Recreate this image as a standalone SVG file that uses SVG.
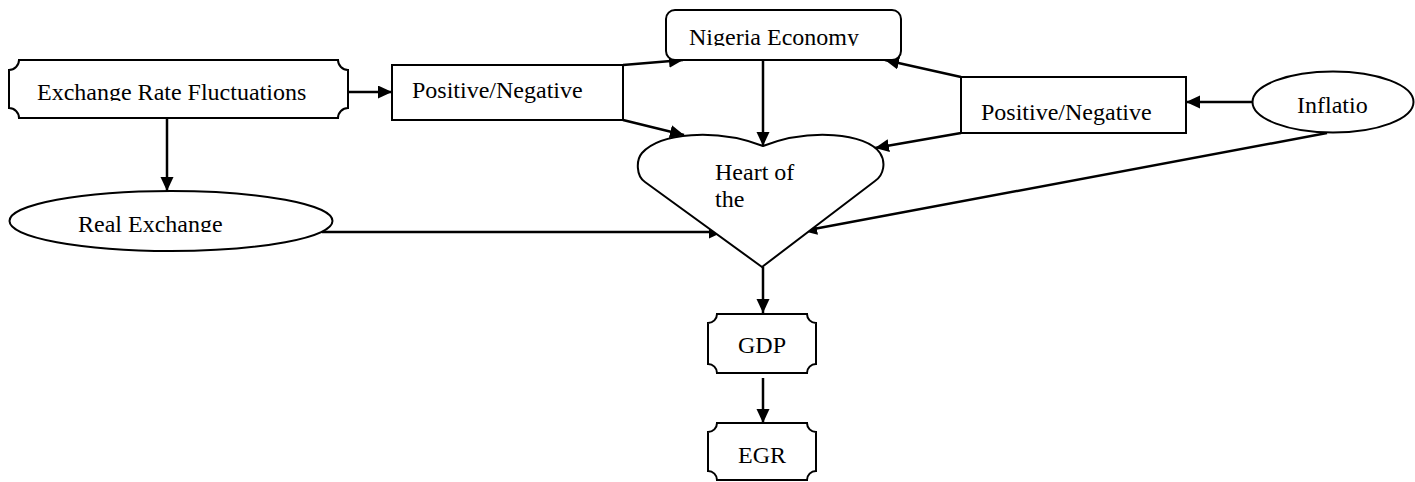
<svg xmlns="http://www.w3.org/2000/svg" width="1415" height="482" viewBox="0 0 1415 482">
<style>
.s{fill:#fff;stroke:#000;stroke-width:2}
.t{font-family:'Liberation Serif','DejaVu Serif','Noto Serif','Times New Roman',Times,serif;font-size:24px;fill:#000}
.c{fill:none;stroke:#000;stroke-width:2.5;marker-end:url(#ah)}
</style>
<defs>
<marker id="ah" markerUnits="userSpaceOnUse" markerWidth="15" markerHeight="14" refX="14" refY="6.5" orient="auto">
<path d="M0,0 L14,6.5 L0,13 Z" fill="#000"/>
</marker>
<clipPath id="cx"><rect x="0" y="0" width="400" height="101"/></clipPath>
<clipPath id="cn"><rect x="660" y="0" width="250" height="46"/></clipPath>
<clipPath id="cr"><rect x="0" y="180" width="340" height="52"/></clipPath>
</defs>
<rect width="1415" height="482" fill="#fff"/>
<g id="connectors">
<line class="c" x1="348" y1="92" x2="392" y2="92"/>
<line class="c" x1="167" y1="118" x2="167" y2="191"/>
<line class="c" x1="623" y1="65" x2="683" y2="60"/>
<line class="c" x1="623" y1="120" x2="684" y2="135"/>
<line class="c" x1="763" y1="61" x2="763" y2="146"/>
<line class="c" x1="961" y1="77" x2="885" y2="60"/>
<line class="c" x1="961" y1="133" x2="875" y2="148"/>
<line class="c" x1="1252" y1="102" x2="1186" y2="102"/>
<line class="c" x1="1327" y1="133" x2="803" y2="231"/>
<line class="c" x1="322" y1="232" x2="723" y2="232"/>
<line class="c" x1="763" y1="267" x2="763" y2="313"/>
<line class="c" x1="763" y1="378" x2="763" y2="423"/>
</g>
<g id="exchange-rate">
<path class="s" d="M19,60 L338,60 A10,10 0 0 0 348,70 L348,108 A10,10 0 0 0 338,118 L19,118 A10,10 0 0 0 9,108 L9,70 A10,10 0 0 0 19,60 Z"/>
<text class="t" x="37" y="100" clip-path="url(#cx)">Exchange Rate Fluctuations</text>
</g>
<g id="pn1">
<rect class="s" x="392" y="65" width="231" height="55"/>
<text class="t" x="412" y="98">Positive/Negative</text>
</g>
<g id="nigeria">
<rect class="s" x="666" y="10" width="235" height="50" rx="9"/>
<text class="t" x="689" y="45" clip-path="url(#cn)">Nigeria Economy</text>
</g>
<g id="pn2">
<rect class="s" x="961" y="77" width="225" height="56"/>
<text class="t" x="981" y="120">Positive/Negative</text>
</g>
<g id="inflation">
<ellipse class="s" cx="1333" cy="102" rx="80.5" ry="30.5"/>
<text class="t" x="1297" y="113">Inflatio</text>
</g>
<g id="real-exchange">
<ellipse class="s" cx="171" cy="221" rx="161.5" ry="30"/>
<text class="t" x="78" y="232" clip-path="url(#cr)">Real Exchange</text>
</g>
<g id="heart">
<path class="s" d="M762,267 L645,182 C636,176 636,160 642,153 C660,133 715,128 763,146 C810,128 866,133 880,153 C886,162 884,175 875,181 Z"/>
<text class="t" x="715" y="180">Heart of</text>
<text class="t" x="715" y="207">the</text>
</g>
<g id="gdp">
<path class="s" d="M717,314 L807,314 A9,9 0 0 0 816,323 L816,364 A9,9 0 0 0 807,373 L717,373 A9,9 0 0 0 708,364 L708,323 A9,9 0 0 0 717,314 Z"/>
<text class="t" x="762" y="353" text-anchor="middle">GDP</text>
</g>
<g id="egr">
<path class="s" d="M717,423 L807,423 A9,9 0 0 0 816,432 L816,471 A9,9 0 0 0 807,480 L717,480 A9,9 0 0 0 708,471 L708,432 A9,9 0 0 0 717,423 Z"/>
<text class="t" x="762" y="463" text-anchor="middle">EGR</text>
</g>
</svg>
